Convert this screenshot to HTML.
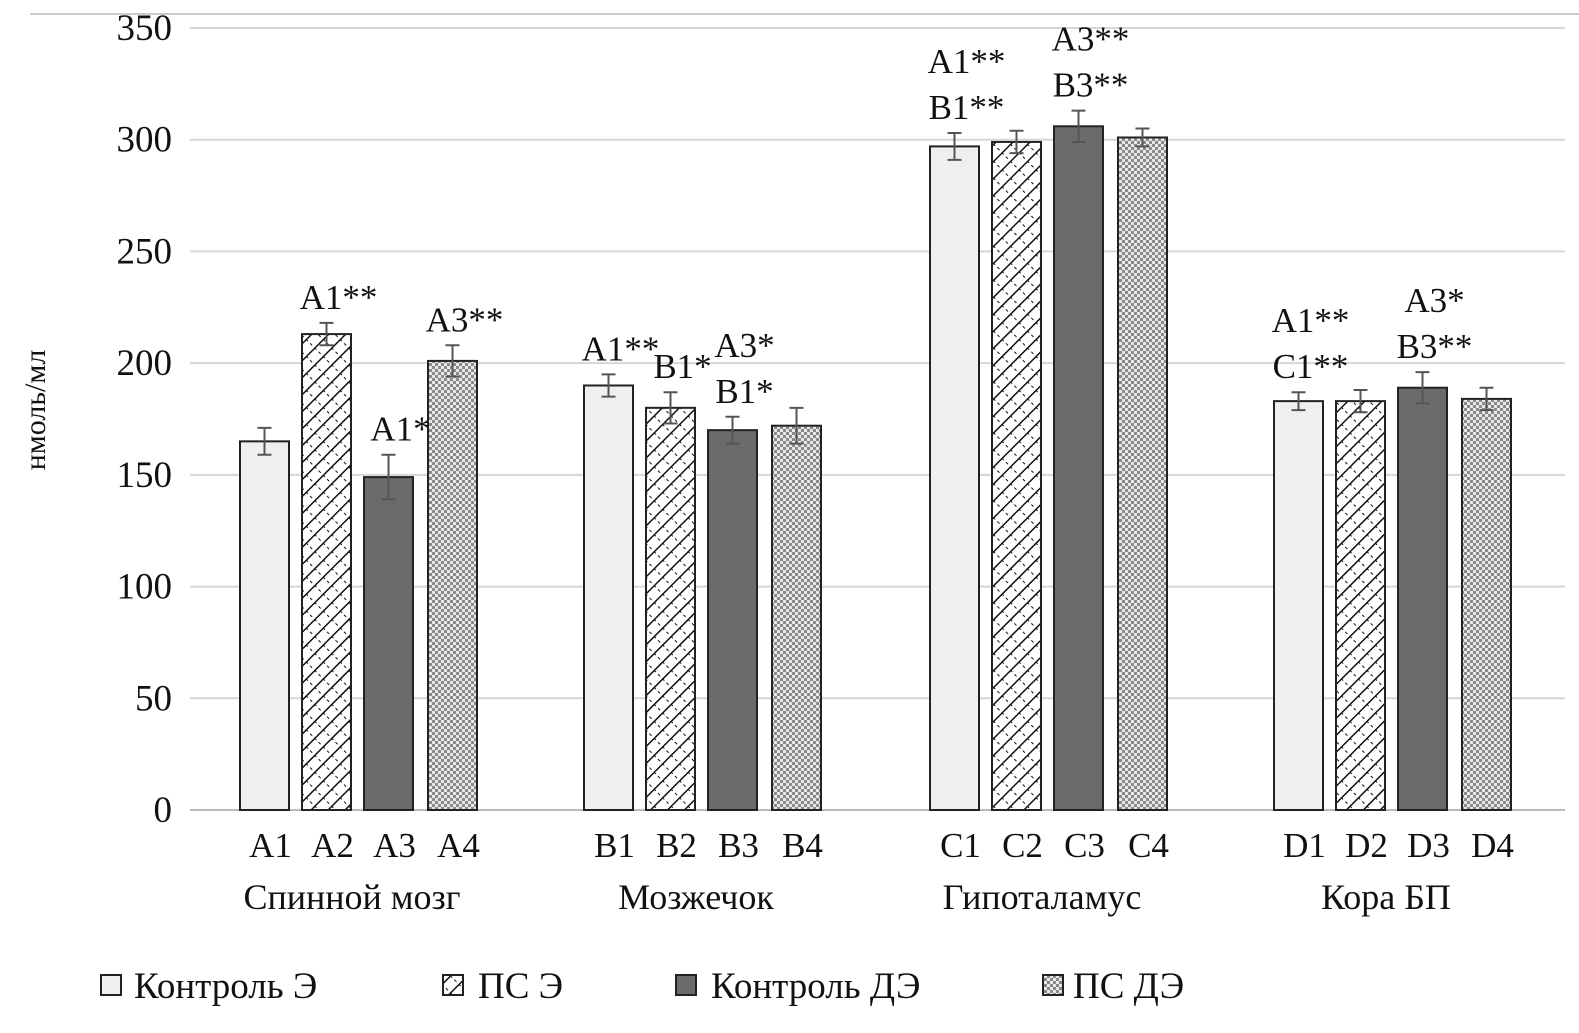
<!DOCTYPE html>
<html><head><meta charset="utf-8"><style>
body{margin:0;background:#fff}
svg text{font-family:"Liberation Serif",serif;fill:#111}
</style></head><body>
<svg width="1579" height="1028" id="c">
<defs>
<pattern id="hatch" width="12" height="12" patternUnits="userSpaceOnUse" patternTransform="rotate(-45)">
<rect width="12" height="12" fill="#fff"/><line x1="0" y1="0" x2="12" y2="0" stroke="#111" stroke-width="3"/><line x1="0" y1="0" x2="0" y2="12" stroke="#111" stroke-width="2" stroke-dasharray="3 3"/></pattern>
<pattern id="check" width="6" height="6" patternUnits="userSpaceOnUse">
<rect width="6" height="6" fill="#e8e8e8"/><rect width="3" height="3" fill="#8a8a8a"/><rect x="3" y="3" width="3" height="3" fill="#8a8a8a"/></pattern>
</defs>
<line x1="30" y1="14" x2="1579" y2="14" stroke="#ccc" stroke-width="2"/>
<g id="grid"></g><g id="bars"></g><g id="labels"></g>
<text x="45" y="410" font-size="30" text-anchor="middle" transform="rotate(-90 45 410)">нмоль/мл</text>
<g font-size="37">
<g><rect x="101" y="975" width="20" height="20" fill="#efefef" stroke="#222" stroke-width="2"/><text x="134" y="998">Контроль Э</text></g>
<g><rect x="443" y="975" width="20" height="20" fill="url(#hatch)" stroke="#222" stroke-width="2"/><text x="478" y="998">ПС Э</text></g>
<g><rect x="676" y="975" width="20" height="20" fill="#6b6b6b" stroke="#222" stroke-width="2"/><text x="711" y="998">Контроль ДЭ</text></g>
<g><rect x="1043" y="975" width="20" height="20" fill="url(#check)" stroke="#222" stroke-width="2"/><text x="1073" y="998">ПС ДЭ</text></g>
</g>
</svg>
<script>
const groups=["Спинной мозг","Мозжечок","Гипоталамус","Кора БП"];
const barLabels=[["A1","A2","A3","A4"],["B1","B2","B3","B4"],["C1","C2","C3","C4"],["D1","D2","D3","D4"]];
const controlE=[165,190,297,183];
const psE=[213,180,299,183];
const controlDE=[149,170,306,189];
const psDE=[201,172,301,184];
const errControlE=[6,5,6,4];
const errPsE=[5,7,5,5];
const errControlDE=[10,6,7,7];
const errPsDE=[7,8,4,5];
const yTicks=[0,50,100,150,200,250,300,350];
const annotations=[[[],["A1**"],["A1*"],["A3**"]],[["A1**"],["B1*"],["A3*","B1*"],[]],[["A1**","B1**"],[],["A3**","B3**"],[]],[["A1**","C1**"],[],["A3*","B3**"],[]]];
const NS="http://www.w3.org/2000/svg";
const y=v=>810-v*(782/350);
const groupStart=[240,584,930,1274],barOff=[0,62,124,188],bw=49;
const x=(g,i)=>groupStart[g]+barOff[i];
function mk(t,a,p){const e=document.createElementNS(NS,t);for(const k in a)e.setAttribute(k,a[k]);p.appendChild(e);return e;}
const G=document.getElementById('grid'),B=document.getElementById('bars'),L=document.getElementById('labels');
yTicks.forEach(t=>{
 const l=mk('line',{x1:190,x2:1565,y1:y(t),y2:y(t),stroke:t===0?'#bbb':'#d6d6d6','stroke-width':2},G);
 
 
 const tx=mk('text',{x:172,y:y(t)+12,'font-size':37,'text-anchor':'end'},G);tx.textContent=t;
 
 
});
const series=[controlE,psE,controlDE,psDE],errs=[errControlE,errPsE,errControlDE,errPsDE];
const fills=['#efefef','url(#hatch)','#6b6b6b','url(#check)'];
groups.forEach((gname,g)=>{
 series.forEach((s,i)=>{
  const v=s[g],e=errs[i][g],bx=x(g,i);
  const r=mk('rect',{x:bx,y:y(v),width:bw,height:810-y(v),fill:fills[i],stroke:'#222','stroke-width':2},B);
  
  
  const cx=bx+bw/2;
  const eb=mk('path',{d:`M${cx} ${y(v+e)}V${y(v-e)}M${cx-7} ${y(v+e)}H${cx+7}M${cx-7} ${y(v-e)}H${cx+7}`,stroke:'#555','stroke-width':2,fill:'none'},B);
  
  
  const bl=mk('text',{x:cx+6,y:857,'font-size':35,'text-anchor':'middle'},L);bl.textContent=barLabels[g][i];
  
  
  const an=annotations[g][i];
  an.forEach((a,k)=>{
   const t=mk('text',{x:cx+12,y:y(v+e)-14-(an.length-1-k)*46,'font-size':35,'text-anchor':'middle'},L);t.textContent=a;
   
   
  });
 });
 const gl=mk('text',{x:groupStart[g]+112,y:909,'font-size':36,'text-anchor':'middle'},L);gl.textContent=gname;
 
 
});
</script>
</body></html>
